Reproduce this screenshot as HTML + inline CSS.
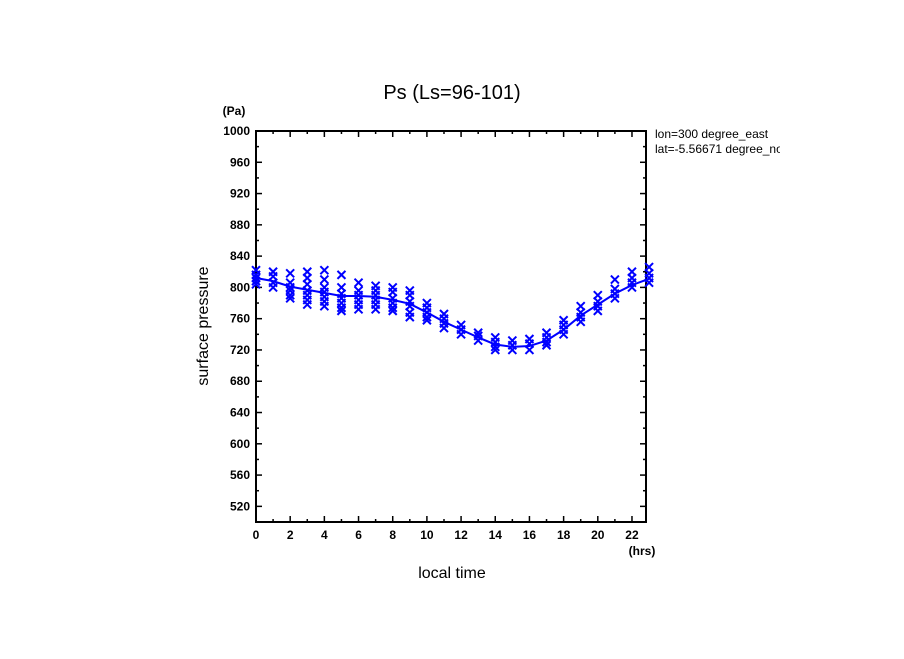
<!DOCTYPE html>
<html><head><meta charset="utf-8"><style>
body{margin:0;background:#fff;width:904px;height:654px;overflow:hidden}
text{font-family:"Liberation Sans",sans-serif}
.b{font-weight:bold}
</style></head><body>
<svg id="chart" width="904" height="654" xmlns="http://www.w3.org/2000/svg">
<text x="452" y="99" font-size="20" text-anchor="middle">Ps (Ls=96-101)</text>
<text class="b" x="234" y="115" font-size="12" text-anchor="middle">(Pa)</text>
<text class="b" x="642" y="555" font-size="12" text-anchor="middle">(hrs)</text>
<text x="452" y="578" font-size="16" text-anchor="middle">local time</text>
<text x="208" y="326" font-size="16" text-anchor="middle" transform="rotate(-90 208 326)">surface pressure</text>
<svg x="0" y="0" width="780" height="654"><g font-size="12">
<text x="655" y="138">lon=300 degree_east</text>
<text x="655" y="153">lat=-5.56671 degree_north</text></g></svg>
<g id="axes"></g><g id="marks"></g>
</svg>
<script>
const hours=[0,1,2,3,4,5,6,7,8,9,10,11,12,13,14,15,16,17,18,19,20,21,22,23];
const meanValues=[812,808,801,797,793,789,789,788,784,779,768,756,746,736,727,724,725,732,746,764,778,792,803,811];
const samples=[[822,816,812,808,804],[820,814,806,800],[818,806,800,796,790,786],[820,812,804,796,790,784,778],[822,810,800,794,788,782,776],[816,800,792,786,780,774,770],[806,796,790,784,778,772],[802,796,790,784,778,772],[800,794,786,780,774,770],[796,790,782,776,768,762],[780,774,768,762,758],[766,760,754,748],[752,746,740],[742,738,732],[736,730,724,720],[732,726,720],[734,728,720],[742,736,730,726],[758,752,746,740],[776,768,762,756],[790,782,776,770],[810,798,792,786],[820,812,806,800],[826,818,812,806]];
const yTicks=[520,560,600,640,680,720,760,800,840,880,920,960,1000];
const xTicks=[0,2,4,6,8,10,12,14,16,18,20,22];
const L=256,R=646,T=131,B=522;
const X=h=>L+h*17.09, Y=v=>B-(v-500)*(B-T)/500;
const NS="http://www.w3.org/2000/svg";
function mk(t,a,p){const e=document.createElementNS(NS,t);for(const k in a)e.setAttribute(k,a[k]);p.appendChild(e);return e;}
const ax=document.getElementById('axes'),mg=document.getElementById('marks');
const frame=mk('rect',{x:L,y:T,width:R-L,height:B-T,fill:'none',stroke:'#000','stroke-width':2},ax);


for(let v=500;v<=1000;v+=20){const big=v%40==0;const len=big?6:3;
mk('line',{x1:L,x2:L+len,y1:Y(v),y2:Y(v),stroke:'#000','stroke-width':1.5},ax);
mk('line',{x1:R,x2:R-len,y1:Y(v),y2:Y(v),stroke:'#000','stroke-width':1.5},ax);}
for(let h=0;h<=22;h++){const len=h%2==0?6:3;
mk('line',{x1:X(h),x2:X(h),y1:B,y2:B-len,stroke:'#000','stroke-width':1.5},ax);
mk('line',{x1:X(h),x2:X(h),y1:T,y2:T+len,stroke:'#000','stroke-width':1.5},ax);}
yTicks.forEach(v=>{const t=mk('text',{x:L-6,y:Y(v)+4,'font-size':12,'text-anchor':'end','class':'b'},ax);t.textContent=v;

});
xTicks.forEach(h=>{const t=mk('text',{x:X(h),y:B+17,'font-size':12,'text-anchor':'middle','class':'b'},ax);t.textContent=h;

});
const line=mk('polyline',{points:hours.map((h,i)=>X(h)+','+Y(meanValues[i])).join(' '),fill:'none',stroke:'#0000ff','stroke-width':2},mg);


samples.forEach((arr,i)=>arr.forEach(v=>{const x=X(hours[i]),y=Y(v),s=4;
const p=mk('path',{d:`M${x-s},${y-s}L${x+s},${y+s}M${x-s},${y+s}L${x+s},${y-s}`,stroke:'#0000ff','stroke-width':2,fill:'none'},mg);

}));
</script>
</body></html>
